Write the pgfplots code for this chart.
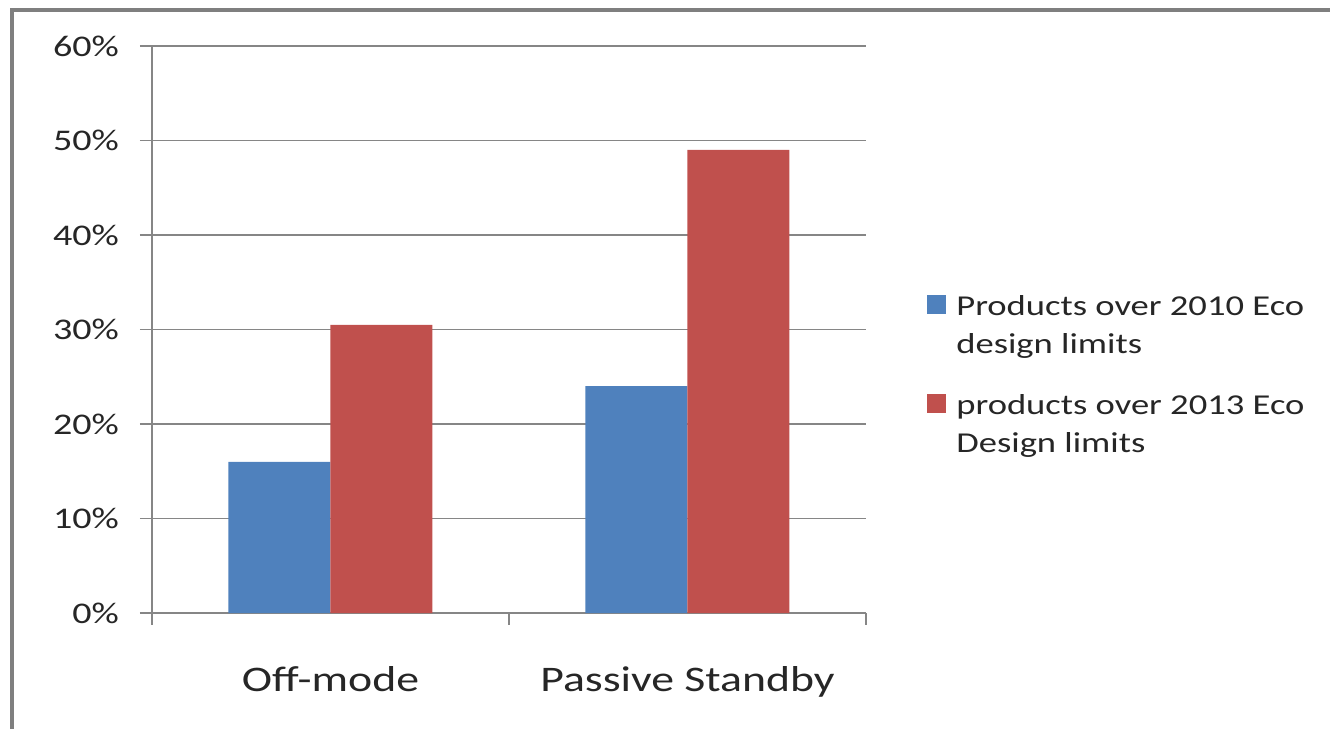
\documentclass[border=0pt]{standalone}
\usepackage{fontspec}
\setmainfont{Carlito}[FakeStretch=1.27]
\usepackage{pgfplots}
\pgfplotsset{compat=1.18}
\definecolor{barblue}{HTML}{4F81BD}
\definecolor{barred}{HTML}{C0504D}
\definecolor{gridgray}{HTML}{868686}
\definecolor{framegray}{HTML}{7F7F7F}

\begin{document}
\begin{tikzpicture}[x=1pt,y=1pt]
\path[use as bounding box] (0,0) rectangle (665,364.5);
\draw[framegray, line width=1.6pt] (6,0) -- (6,359.5) -- (665,359.5);
\begin{axis}[
    at={(76pt,58pt)}, anchor=south west,
    scale only axis, width=357pt, height=283.5pt,
    xmin=-0.5, xmax=1.5, ymin=0, ymax=60,
    ybar=0pt, bar width=51pt,
    axis lines*=left,
    axis line style={gridgray, line width=0.6pt},
    xtick={0,1}, xticklabels={Off-mode, Passive Standby},
    major x tick style={draw=none},
    minor xtick={-0.5,0.5,1.5},
    ytick={0,10,...,60},
    yticklabel={\pgfmathprintnumber[assume math mode=true]{\tick}\%},
    ymajorgrids, grid style={gridgray, line width=0.6pt},
    tick align=outside,
    major tick length=6pt, minor tick length=6pt,
    tick style={gridgray, line width=0.6pt},
    yticklabel style={font=\fontsize{15}{17}\selectfont, text=black!85, xshift=-7pt},
    xticklabel style={font=\fontsize{18}{21}\selectfont, text=black!85, yshift=-17pt},
    legend style={draw=none, at={(1.0854,0.5675)}, anchor=north west,
      font=\fontsize{14.4}{19}\selectfont, text=black!85,
      cells={align=left, anchor=west}, row sep=15pt, inner sep=0pt,
      nodes={inner xsep=5pt}},
    legend image code/.code={\fill[#1] (0pt,6pt) rectangle (9.5pt,15.5pt);},
  ]
\addplot[fill=barblue, draw=none] coordinates {(0,16) (1,24)};
\addlegendentry{Products over 2010 Eco\\design limits}
\addplot[fill=barred, draw=none] coordinates {(0,30.5) (1,49)};
\addlegendentry{products over 2013 Eco\\Design limits}
\end{axis}
\end{tikzpicture}
\end{document}
